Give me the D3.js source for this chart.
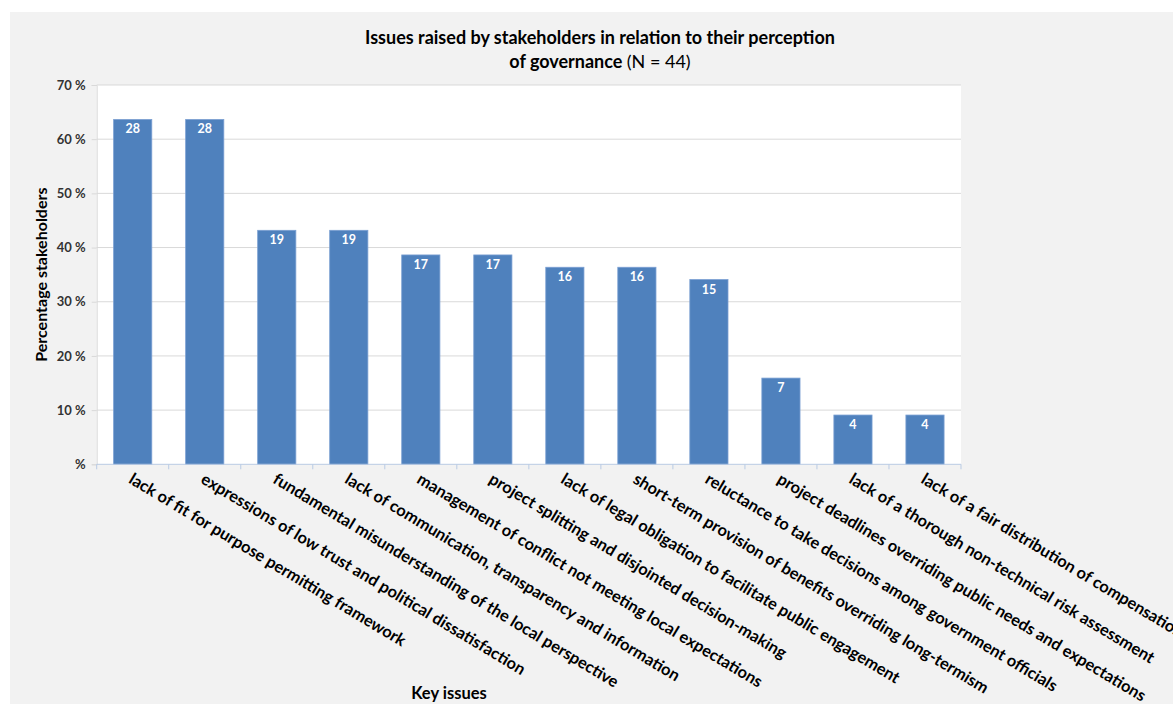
<!DOCTYPE html>
<html>
<head>
<meta charset="utf-8">
<script src="https://cdn.jsdelivr.net/npm/d3@7"></script>
<style>
  body { margin: 0; background: #fff; }
  text { font-family: Lato, "Open Sans", sans-serif; }
</style>
</head>
<body>
<svg id="chart"></svg>
<script>
const width = 1173
const height = 704

const N = 44
const categories = [
  "lack of fit for purpose permitting framework",
  "expressions of low trust and political dissatisfaction",
  "fundamental misunderstanding of the local perspective",
  "lack of communication, transparency and information",
  "management of conflict not meeting local expectations",
  "project splitting and disjointed decision-making",
  "lack of legal obligation to facilitate public engagement",
  "short-term provision of benefits overriding long-termism",
  "reluctance to take decisions among government officials",
  "project deadlines overriding public needs and expectations",
  "lack of a thorough non-technical risk assessment",
  "lack of a fair distribution of compensation"
]
const counts = [28, 28, 19, 19, 17, 17, 16, 16, 15, 7, 4, 4]
const yTicks = [0, 10, 20, 30, 40, 50, 60, 70]
const yTickLabels = ["%", "10 %", "20 %", "30 %", "40 %", "50 %", "60 %", "70 %"]

const margin = { left: 96.7, right: 1173 - 961, top: 85, bottom: 704 - 464.3 }

const svg = d3.select("#chart")
  .attr("width", width)
  .attr("height", height)

// grey chart background
svg.append("rect")
  .attr("x", 10).attr("y", 12)
  .attr("width", width - 10).attr("height", height - 12)
  .attr("fill", "#f2f2f2")

const x = d3.scaleBand()
  .domain(categories)
  .range([margin.left, width - margin.right])
  .paddingInner(0.47)
  .paddingOuter(0.235)

const y = d3.scaleLinear()
  .domain([0, 70])
  .range([height - margin.bottom, margin.top])

// white plot area
svg.append("rect")
  .attr("x", margin.left).attr("y", margin.top)
  .attr("width", width - margin.right - margin.left)
  .attr("height", height - margin.bottom - margin.top)
  .attr("fill", "#fff")

// y axis with gridlines
const yAxis = svg.append("g")
  .attr("transform", `translate(${margin.left},0)`)
  .call(d3.axisLeft(y)
    .tickValues(yTicks)
    .tickSize(5)
    .tickFormat((d, i) => yTickLabels[i]))
yAxis.select(".domain").attr("stroke", "#d9d9d9")
yAxis.selectAll(".tick line").attr("stroke", "#d9d9d9")
yAxis.selectAll(".tick text")
  .attr("x", -11)
  .attr("fill", "#333")
  .style("font-size", "13px")
  .style("font-weight", "bold")

svg.append("g")
  .selectAll("line")
  .data(yTicks.filter(d => d > 0))
  .join("line")
  .attr("x1", margin.left)
  .attr("x2", width - margin.right)
  .attr("y1", d => y(d))
  .attr("y2", d => y(d))
  .attr("stroke", "#d9d9d9")

// bars
const bars = svg.append("g")
bars.selectAll("rect")
  .data(counts)
  .join("rect")
  .attr("x", (d, i) => x(categories[i]))
  .attr("width", x.bandwidth())
  .attr("y", d => y(d / N * 100))
  .attr("height", d => y(0) - y(d / N * 100))
  .attr("fill", "#4f81bd")
  .attr("stroke", "#7a9fd2")
  .attr("stroke-width", 0.8)

bars.selectAll("text")
  .data(counts)
  .join("text")
  .attr("x", (d, i) => x(categories[i]) + x.bandwidth() / 2)
  .attr("y", d => y(d / N * 100) + 14)
  .attr("text-anchor", "middle")
  .attr("fill", "#fff")
  .style("font-size", "12.5px")
  .style("font-weight", "bold")
  .text(d => d)

// x axis: line with ticks at band edges
const step = x.step()
const xEdges = d3.range(categories.length + 1).map(i => margin.left + i * step)
svg.append("line")
  .attr("x1", margin.left).attr("x2", width - margin.right)
  .attr("y1", y(0)).attr("y2", y(0))
  .attr("stroke", "#b9cbe4")
svg.append("g")
  .selectAll("line")
  .data(xEdges)
  .join("line")
  .attr("x1", d => d).attr("x2", d => d)
  .attr("y1", y(0)).attr("y2", y(0) + 5)
  .attr("stroke", "#b9cbe4")

// rotated category labels
svg.append("g")
  .selectAll("text")
  .data(categories)
  .join("text")
  .attr("transform", d => `translate(${x(d) + x.bandwidth() / 2 - 5},${y(0) + 18}) rotate(31)`)
  .attr("text-anchor", "start")
  .attr("fill", "#000")
  .style("font-size", "16.4px")
  .style("font-weight", "bold")
  .text(d => d)

// titles
const title = svg.append("text")
  .attr("x", 600)
  .attr("y", 44)
  .attr("text-anchor", "middle")
  .style("font-size", "18px")
  .style("font-weight", "bold")
title.append("tspan").text("Issues raised by stakeholders in relation to their perception")
const line2 = title.append("tspan").attr("x", 600).attr("dy", 24)
line2.append("tspan").text("of governance ")
line2.append("tspan").style("font-weight", "normal").text("(N = 44)")

svg.append("text")
  .attr("transform", `translate(47,${(y(0) + y(70)) / 2}) rotate(-90)`)
  .attr("text-anchor", "middle")
  .style("font-size", "16px")
  .style("font-weight", "bold")
  .text("Percentage stakeholders")

svg.append("text")
  .attr("x", 449)
  .attr("y", 699)
  .attr("text-anchor", "middle")
  .style("font-size", "16.5px")
  .style("font-weight", "bold")
  .text("Key issues")
</script>
</body>
</html>
